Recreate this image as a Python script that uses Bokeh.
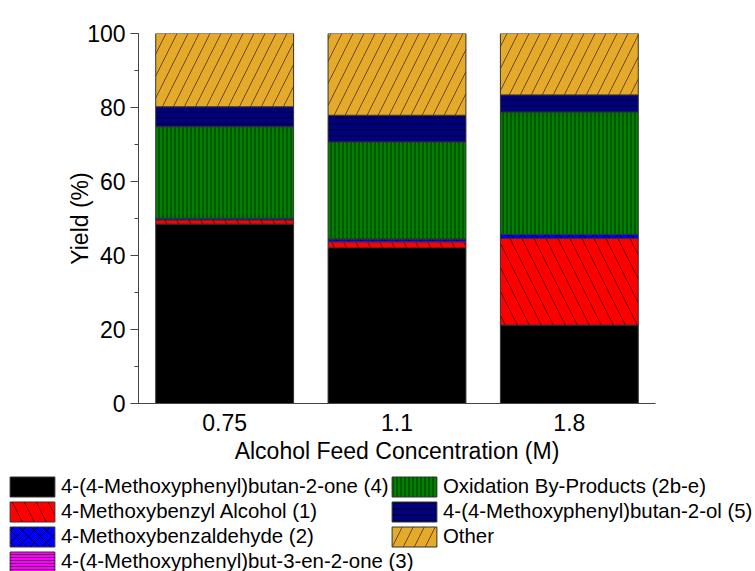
from bokeh.plotting import figure
from bokeh.layouts import column
from bokeh.models import (Range1d, FactorRange, SingleIntervalTicker, Legend, LegendItem)
from bokeh.embed import file_html
from bokeh.resources import INLINE

# Alcohol feed concentrations (M)
concentrations = ["0.75", "1.1", "1.8"]

# Product yields (%) for each feed concentration
ketone_4 = [48.5, 42.1, 21.2]          # 4-(4-Methoxyphenyl)butan-2-one (4)
alcohol_1 = [1.1, 1.6, 23.4]           # 4-Methoxybenzyl Alcohol (1)
aldehyde_2 = [0.5, 0.8, 1.1]           # 4-Methoxybenzaldehyde (2)
enone_3 = [0.0, 0.0, 0.0]              # 4-(4-Methoxyphenyl)but-3-en-2-one (3)
oxidation_2be = [24.7, 26.2, 33.1]     # Oxidation By-Products (2b-e)
alcohol_5 = [5.4, 7.2, 4.6]            # 4-(4-Methoxyphenyl)butan-2-ol (5)
other = [19.8, 22.1, 16.6]             # Other

series_keys = ["k4", "a1", "a2", "e3", "ox", "a5", "oth"]
series_labels = [
    "4-(4-Methoxyphenyl)butan-2-one (4)",
    "4-Methoxybenzyl Alcohol (1)",
    "4-Methoxybenzaldehyde (2)",
    "4-(4-Methoxyphenyl)but-3-en-2-one (3)",
    "Oxidation By-Products (2b-e)",
    "4-(4-Methoxyphenyl)butan-2-ol (5)",
    "Other",
]
fills = ["#000000", "#FF0000", "#0000FF", "#FF00FF", "#008000", "#000080", "#E6AA2A"]
hatches = [" ", "left_diagonal_line", "diagonal_cross", "horizontal_line",
           "vertical_line", "horizontal_line", "right_diagonal_line"]
hatch_scales = [12, 24, 12, 3, 4, 6, 22]
hatch_alphas = [1.0, 0.55, 0.85, 0.6, 0.6, 0.8, 0.55]

source = dict(x=concentrations, k4=ketone_4, a1=alcohol_1, a2=aldehyde_2, e3=enone_3,
              ox=oxidation_2be, a5=alcohol_5, oth=other)

FONT = "Liberation Sans"
STYLE = dict(line_color="#333333", line_width=1, hatch_color="#000000", hatch_weight=1)

# ---- stacked bar chart ----
p = figure(width=755, height=472, x_range=FactorRange(*concentrations),
           y_range=Range1d(0, 100), output_backend="svg", toolbar_location=None,
           min_border_left=138, min_border_right=100, min_border_top=33,
           min_border_bottom=69, frame_align=False)
p.outline_line_color = None
p.xgrid.grid_line_color = None
p.ygrid.grid_line_color = None
p.x_range.range_padding = 0

p.vbar_stack(series_keys, x="x", width=0.8, source=source,
             fill_color=fills, hatch_pattern=hatches,
             hatch_scale=hatch_scales, hatch_alpha=hatch_alphas, **STYLE)

p.yaxis.ticker = SingleIntervalTicker(interval=20, num_minor_ticks=2)
p.yaxis.axis_label = "Yield (%)"
p.xaxis.axis_label = "Alcohol Feed Concentration (M)"
for ax in (p.xaxis[0], p.yaxis[0]):
    ax.axis_line_color = "#444444"
    ax.major_tick_line_color = "#444444"
    ax.minor_tick_line_color = "#444444"
    ax.major_label_text_font = FONT
    ax.major_label_text_font_size = "23px"
    ax.major_label_text_color = "#000000"
    ax.axis_label_text_font = FONT
    ax.axis_label_text_font_size = "23px"
    ax.axis_label_text_font_style = "normal"
    ax.axis_label_text_color = "#000000"
p.yaxis.major_tick_out = 8
p.yaxis.major_tick_in = 0
p.yaxis.minor_tick_out = 4
p.yaxis.minor_tick_in = 0
p.yaxis.major_label_standoff = 5
p.yaxis.axis_label_standoff = -9
p.xaxis.major_tick_out = 0
p.xaxis.major_tick_in = 0
p.xaxis.minor_tick_out = 0
p.xaxis.major_label_standoff = 10
p.xaxis.axis_label_standoff = 4

# ---- two-column legend panel beneath the chart ----
lg = figure(width=755, height=99, x_range=Range1d(0, 1), y_range=Range1d(0, 1),
            output_backend="svg", toolbar_location=None,
            min_border=0, outline_line_color=None, frame_align=False)
lg.axis.visible = False
lg.grid.visible = False

# legend keys: one off-screen (NaN) bar per series carrying that series' style
nan = float("nan")
keys = []
for i in range(len(series_labels)):
    r = lg.vbar(x=[nan], top=[nan], width=0.8, fill_color=fills[i],
                hatch_pattern=hatches[i], hatch_scale=hatch_scales[i],
                hatch_alpha=hatch_alphas[i], **STYLE)
    keys.append(r)


def make_legend(idx, loc):
    # area keys are drawn inset by 10% of the glyph box
    items = [LegendItem(label=series_labels[i], renderers=[keys[i]]) for i in idx]
    return Legend(items=items, location=loc, orientation="vertical",
                  glyph_width=56, glyph_height=25, spacing=0, padding=0, margin=0,
                  label_standoff=1, label_height=25,
                  label_text_font=FONT, label_text_font_size="20.4px",
                  label_text_color="#000000",
                  background_fill_alpha=0, border_line_color=None)


lg.add_layout(make_legend([0, 1, 2, 3], (4, -3)))
lg.add_layout(make_legend([4, 5, 6], (386, 22)))

open("out.html", "w").write(file_html(column(p, lg, spacing=0), INLINE))
